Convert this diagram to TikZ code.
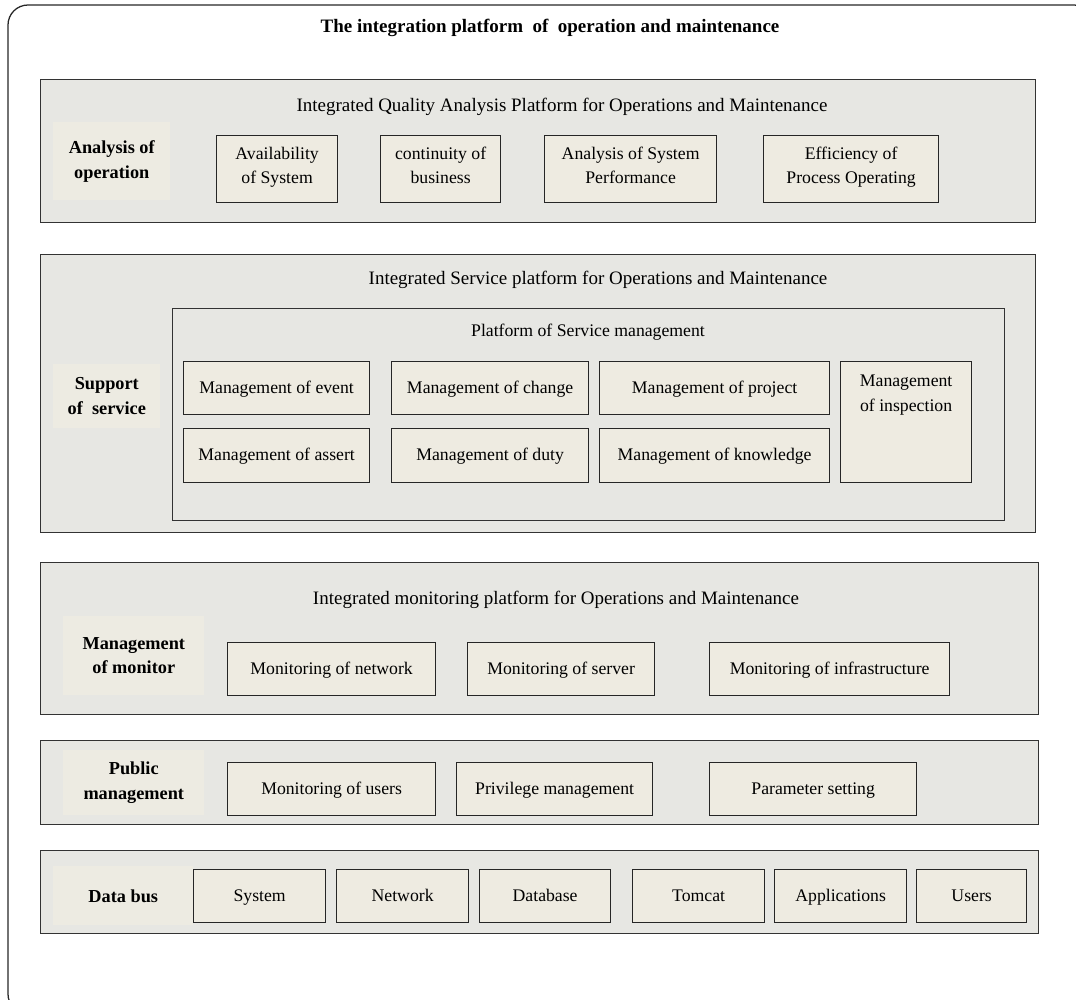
\documentclass[tikz,border=0pt]{standalone}
\usepackage{fontspec}
\setmainfont{Liberation Serif}
\usepackage{tikz}
\usetikzlibrary{positioning}
\definecolor{panelgray}{HTML}{E7E7E3}
\definecolor{itembeige}{HTML}{EEEBE1}
\definecolor{tagbeige}{HTML}{EDEBE2}
\def\pxu{0.025cm}
\tikzstyle{panel} = [rectangle, anchor=north west, inner sep=0pt, draw=black!80, fill=panelgray, line width=1pt]
\tikzstyle{item} = [rectangle, anchor=north west, inner sep=0pt, text centered, align=center, draw=black!85, fill=itembeige, line width=0.9pt, font=\fontsize{12.6}{17.5}\selectfont, execute at begin node=\strut, execute at end node=\strut]
\tikzstyle{tag} = [rectangle, anchor=north west, inner sep=0pt, text centered, align=center, fill=tagbeige, font=\fontsize{13}{17.5}\selectfont\bfseries]
\tikzstyle{heading} = [inner sep=0pt, align=center]

\begin{document}
\begin{tikzpicture}[x=\pxu, y=-\pxu, font=\fontsize{13.5}{17.5}\selectfont]
	\clip (0,0) rectangle (1076,999);
	\useasboundingbox (0,0) rectangle (1076,999);
	\draw [black!85, line width=0.9pt, rounded corners=0.5cm] (8,5) rectangle (1094,1014);
	\node (title) [heading, font=\fontsize{13.5}{17.5}\selectfont\bfseries] at (550,28) {The integration platform\ \ of\ \ operation and maintenance};

	% analysis layer
	\node (quality) [panel, minimum width=995*\pxu, minimum height=143*\pxu] at (40,79) {};
	\node (qualitytitle) [heading] at (562,107) {Integrated Quality Analysis Platform for Operations and Maintenance};
	\node (analysis) [tag, minimum width=117*\pxu, minimum height=78*\pxu] at (53,122) {Analysis of\\operation};
	\node (avail) [item, minimum width=121*\pxu, minimum height=67*\pxu] at (216,135) {Availability\\of System};
	\node (contin) [item, minimum width=120*\pxu, minimum height=67*\pxu] at (380,135) {continuity of\\business};
	\node (perf) [item, minimum width=172*\pxu, minimum height=67*\pxu] at (544,135) {Analysis of System\\Performance};
	\node (effic) [item, minimum width=175*\pxu, minimum height=67*\pxu] at (763,135) {Efficiency of\\Process Operating};

	% service layer
	\node (service) [panel, minimum width=995*\pxu, minimum height=278*\pxu] at (40,254) {};
	\node (servicetitle) [heading] at (598,280) {Integrated Service platform for Operations and Maintenance};
	\node (smp) [panel, minimum width=832*\pxu, minimum height=212*\pxu, line width=0.9pt] at (172,308) {};
	\node (smptitle) [heading, font=\fontsize{12.6}{17.5}\selectfont] at (588,332) {Platform of Service management};
	\node (support) [tag, minimum width=107*\pxu, minimum height=64*\pxu] at (53,364) {Support\\of\ \ service};
	\node (event) [item, minimum width=186*\pxu, minimum height=53*\pxu] at (183,361) {Management of event};
	\node (change) [item, minimum width=197*\pxu, minimum height=53*\pxu] at (391,361) {Management of change};
	\node (project) [item, minimum width=230*\pxu, minimum height=53*\pxu] at (599,361) {Management of project};
	\node (inspect) [item, minimum width=131*\pxu, minimum height=121*\pxu] at (840,361) {};
	\node (inspecttxt) [heading, font=\fontsize{12.6}{17.5}\selectfont, below=14*\pxu of inspect.north] {Management\\of inspection};
	\node (assert) [item, minimum width=186*\pxu, minimum height=54*\pxu] at (183,428) {Management of assert};
	\node (duty) [item, minimum width=197*\pxu, minimum height=54*\pxu] at (391,428) {Management of duty};
	\node (knowledge) [item, minimum width=230*\pxu, minimum height=54*\pxu] at (599,428) {Management of knowledge};

	% monitoring layer
	\node (monitor) [panel, minimum width=998*\pxu, minimum height=152*\pxu] at (40,562) {};
	\node (monitortitle) [heading] at (556,600) {Integrated monitoring platform for Operations and Maintenance};
	\node (mgmtmon) [tag, minimum width=141*\pxu, minimum height=79*\pxu] at (63,616) {Management\\of monitor};
	\node (monnet) [item, minimum width=208*\pxu, minimum height=53*\pxu] at (227,642) {Monitoring of network};
	\node (monserv) [item, minimum width=187*\pxu, minimum height=53*\pxu] at (467,642) {Monitoring of server};
	\node (moninfra) [item, minimum width=240*\pxu, minimum height=53*\pxu] at (709,642) {Monitoring of infrastructure};

	% public layer
	\node (public) [panel, minimum width=998*\pxu, minimum height=84*\pxu] at (40,740) {};
	\node (pubmgmt) [tag, minimum width=141*\pxu, minimum height=65*\pxu] at (63,750) {Public\\management};
	\node (monusers) [item, minimum width=208*\pxu, minimum height=53*\pxu] at (227,762) {Monitoring of users};
	\node (privilege) [item, minimum width=196*\pxu, minimum height=53*\pxu] at (456,762) {Privilege management};
	\node (param) [item, minimum width=207*\pxu, minimum height=53*\pxu] at (709,762) {Parameter setting};

	% data bus layer
	\node (bus) [panel, minimum width=998*\pxu, minimum height=83*\pxu] at (40,850) {};
	\node (databus) [tag, minimum width=140*\pxu, minimum height=59*\pxu] at (53,866) {Data bus};
	\node (system) [item, minimum width=132*\pxu, minimum height=53*\pxu] at (193,869) {System};
	\node (network) [item, minimum width=132*\pxu, minimum height=53*\pxu] at (336,869) {Network};
	\node (database) [item, minimum width=131*\pxu, minimum height=53*\pxu] at (479,869) {Database};
	\node (tomcat) [item, minimum width=132*\pxu, minimum height=53*\pxu] at (632,869) {Tomcat};
	\node (apps) [item, minimum width=132*\pxu, minimum height=53*\pxu] at (774,869) {Applications};
	\node (users) [item, minimum width=110*\pxu, minimum height=53*\pxu] at (916,869) {Users};
\end{tikzpicture}
\end{document}
